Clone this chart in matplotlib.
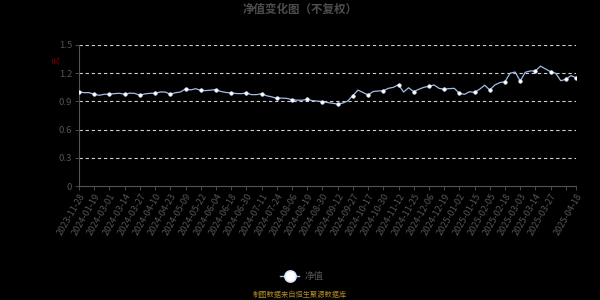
import matplotlib
matplotlib.use("Agg")
import matplotlib.pyplot as plt
from matplotlib.lines import Line2D

plt.rcParams['font.family'] = ['Noto Sans CJK SC', 'DejaVu Sans']

title = "净值变化图（不复权）"
series_name = "净值"
source_note = "制图数据来自恒生聚源数据库"
y_unit = "元"

tick_labels = [
    "2023-11-28", "2024-01-19", "2024-03-01", "2024-03-14", "2024-03-27",
    "2024-04-10", "2024-04-23", "2024-05-09", "2024-05-22", "2024-06-04",
    "2024-06-18", "2024-06-30", "2024-07-11", "2024-07-24", "2024-08-06",
    "2024-08-19", "2024-08-30", "2024-09-12", "2024-09-27", "2024-10-17",
    "2024-10-30", "2024-11-12", "2024-11-25", "2024-12-06", "2024-12-19",
    "2025-01-02", "2025-01-15", "2025-02-05", "2025-02-18", "2025-03-03",
    "2025-03-14", "2025-03-27", "", "2025-04-18",
]

nav = [
    1.003, 0.993, 0.993, 0.976, 0.965, 0.976, 0.976, 0.983, 0.986, 0.976,
    0.988, 0.985, 0.965, 0.980, 0.986, 0.986, 1.000, 1.000, 0.976, 0.992,
    1.000, 1.032, 1.022, 1.035, 1.018, 1.015, 1.020, 1.025, 1.005, 0.995,
    0.990, 0.984, 0.982, 0.990, 0.972, 0.972, 0.982, 0.960, 0.948, 0.933,
    0.935, 0.932, 0.918, 0.913, 0.912, 0.922, 0.908, 0.903, 0.897, 0.888,
    0.880, 0.872, 0.882, 0.905, 0.961, 1.020, 0.995, 0.968, 1.005, 1.011,
    1.014, 1.039, 1.050, 1.078, 1.000, 1.045, 1.003, 1.029, 1.050, 1.061,
    1.075, 1.039, 1.029, 1.036, 1.039, 0.986, 0.975, 1.003, 0.996, 1.030,
    1.072, 1.021, 1.075, 1.100, 1.110, 1.200, 1.212, 1.117, 1.210, 1.224,
    1.224, 1.275, 1.245, 1.216, 1.199, 1.120, 1.135, 1.174, 1.152,
]

y_ticks = [0, 0.3, 0.6, 0.9, 1.2, 1.5]
y_tick_labels = ["0", "0.3", "0.6", "0.9", "1.2", "1.5"]

step = 3
n = len(nav)
x = list(range(n))
marker_idx = list(range(0, n, step))
if marker_idx[-1] != n - 1:
    marker_idx.append(n - 1)
tick_pos = list(range(0, n - 1, step)) + [n - 1]

fig = plt.figure(figsize=(6, 3), dpi=100, facecolor='black')
ax = fig.add_axes([79/600, 1 - 186/300, (576 - 79)/600, (186 - 45)/300])
ax.set_facecolor('black')

line_color = '#9fbde6'
ax.plot(x, nav, color=line_color, lw=0.9, zorder=3)
ax.plot([x[i] for i in marker_idx], [nav[i] for i in marker_idx], ls='none',
        marker='o', ms=2.6, mfc='white', mec='#dce8fa', mew=0.4, zorder=4)

ax.set_xlim(0, n - 1)
ax.set_ylim(0, 1.5)
ax.set_yticks(y_ticks)
ax.set_yticklabels(y_tick_labels)
ax.set_xticks(tick_pos)
ax.set_xticklabels(tick_labels[:len(tick_pos) - 1] + [tick_labels[-1]],
                   rotation=60, ha='right', rotation_mode='anchor')

for yv in y_ticks[1:]:
    ax.axhline(yv, color='#cfcfcf', lw=0.8, ls=(0, (3, 2.5)), zorder=1)

for s in ['top', 'right']:
    ax.spines[s].set_visible(False)
for s in ['left', 'bottom']:
    ax.spines[s].set_color('#555555')
    ax.spines[s].set_linewidth(0.8)

ax.tick_params(axis='y', colors='#555555', labelsize=6.8, length=3, width=0.6, pad=2)
ax.tick_params(axis='x', colors='#555555', labelsize=6.6, length=3, width=0.6, pad=1)

fig.text(0.5, 1 - 9/300, title, ha='center', va='center', fontsize=8.3,
         color='#4d4d4d', fontweight='bold')
fig.text(57/600, 1 - 60/300, y_unit, ha='center', va='center', fontsize=5.5,
         color='#8b0000', rotation=90)

# legend
lx0, lx1, ly = 280/600, 299/600, 1 - 276/300
fig.add_artist(Line2D([lx0, lx1], [ly, ly], transform=fig.transFigure,
                      color=line_color, lw=1.0))
fig.add_artist(Line2D([(lx0 + lx1)/2], [ly], transform=fig.transFigure,
                      marker='o', ms=8, mfc='white', mec='#dbe8ff', mew=1.2,
                      ls='none'))
fig.text(305/600, ly, series_name, ha='left', va='center', fontsize=6.8,
         color='#555555')

fig.text(0.5, 1 - 295/300, source_note, ha='center', va='center', fontsize=5.2,
         color='#b08a2a')

fig.savefig('out.png', dpi=100, facecolor='black')
